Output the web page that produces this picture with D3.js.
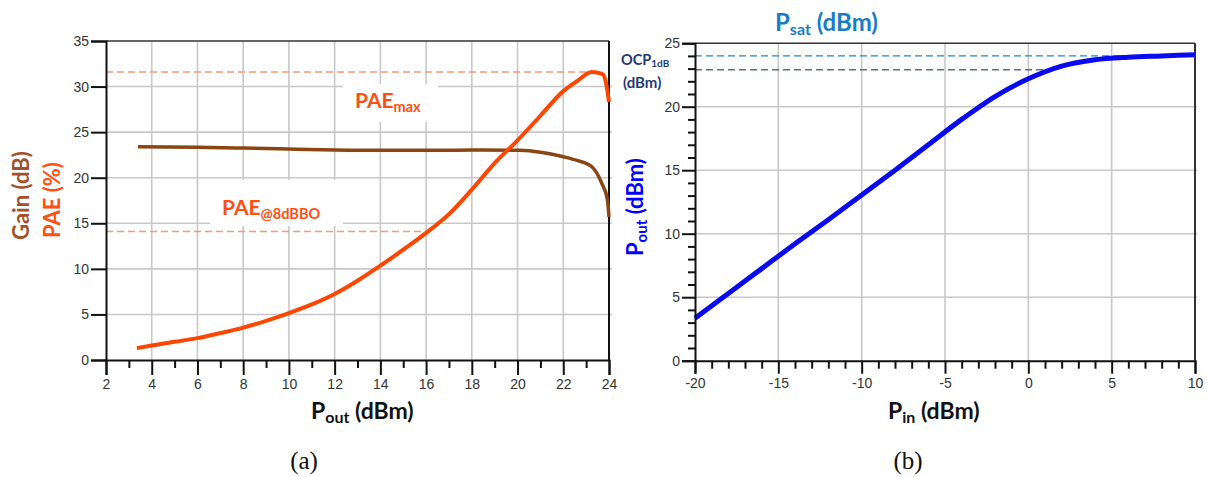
<!DOCTYPE html>
<html><head><meta charset="utf-8">
<script src="https://cdn.jsdelivr.net/npm/d3@7"></script>
<style>
html,body{margin:0;padding:0;background:#fff;}
svg{display:block;}
</style></head>
<body>
<svg id="c" width="1208" height="477"></svg>
<script>
// ---------------- Data: panel (a) ----------------
const paeX   = [3.35, 4, 5, 6, 7, 8, 9, 10, 11, 12, 13, 14, 15, 16, 17, 18, 19, 20, 21, 22, 22.6, 23.25, 23.7, 23.87, 24];
const paeY   = [1.3, 1.6, 2.0, 2.4, 2.95, 3.55, 4.3, 5.15, 6.1, 7.25, 8.7, 10.35, 12.1, 13.95, 16.0, 18.7, 21.6, 24.1, 26.8, 29.5, 30.6, 31.6, 31.4, 30.4, 28.3];
const gainX  = [3.4, 6, 8, 10, 12, 14, 16, 18, 20.1, 21, 22, 22.6, 23.25, 23.68, 23.93, 24];
const gainY  = [23.4, 23.35, 23.25, 23.15, 23.05, 23.0, 23.0, 23.05, 23.0, 22.8, 22.3, 21.9, 21.2, 19.4, 17.6, 15.7];
const paeMax = 31.6;
const paeBO  = 14.1;
const paeBOEnd = 16;
const aXTicks = [2,4,6,8,10,12,14,16,18,20,22,24];
const aYTicks = [0,5,10,15,20,25,30,35];

// ---------------- Data: panel (b) ----------------
const pinX  = [-20, -18, -16, -14, -12, -10, -8, -6, -4, -2, 0, 2, 4, 6, 8, 10];
const poutY = [3.35, 5.3, 7.25, 9.2, 11.1, 13.05, 15.0, 17.0, 19.0, 20.8, 22.2, 23.2, 23.7, 23.9, 24.0, 24.1];
const psat = 24.0;
const ocp1dB = 22.9;
const ocpEndPin = 1.0;
const bXTicks = [-20,-15,-10,-5,0,5,10];
const bYTicks = [0,5,10,15,20,25];

const svg = d3.select("#c");
const tickFont = "'Liberation Sans', Arial, sans-serif";
const boldFont = "Lato, 'Open Sans', sans-serif";
const gridCol = "#c8c8c8";
const plainFmt = d => String(d);

// ================= Panel (a) =================
const ax = d3.scaleLinear().domain([2,24]).range([106,609]);
const ay = d3.scaleLinear().domain([0,35]).range([360,41]);
const ga = svg.append("g");

ga.selectAll(".vg").data(aXTicks.filter(d=>d>2 && d<24)).enter().append("line")
  .attr("x1",d=>ax(d)).attr("x2",d=>ax(d)).attr("y1",ay(0)).attr("y2",ay(35))
  .attr("stroke",gridCol).attr("stroke-width",1.6);
ga.selectAll(".hg").data(aYTicks.filter(d=>d>0 && d<35)).enter().append("line")
  .attr("x1",ax(2)).attr("x2",ax(24)+3).attr("y1",d=>ay(d)).attr("y2",d=>ay(d))
  .attr("stroke",gridCol).attr("stroke-width",1.6);

ga.append("rect").attr("x",343).attr("y",84).attr("width",95).attr("height",38).attr("fill","#fff");
ga.append("rect").attr("x",210).attr("y",180).attr("width",133).attr("height",46).attr("fill","#fff");

ga.append("line").attr("x1",ax(2)).attr("x2",ax(23.25)).attr("y1",ay(paeMax)).attr("y2",ay(paeMax))
  .attr("stroke","#f59a72").attr("stroke-width",1.4).attr("stroke-dasharray","7,4");
ga.append("line").attr("x1",ax(2)).attr("x2",ax(paeBOEnd)).attr("y1",ay(paeBO)).attr("y2",ay(paeBO))
  .attr("stroke","#f59a72").attr("stroke-width",1.4).attr("stroke-dasharray","7,4");

ga.append("line").attr("x1",ax(2)).attr("x2",ax(24)).attr("y1",ay(35)).attr("y2",ay(35)).attr("stroke","#333").attr("stroke-width",1.6);
ga.append("line").attr("x1",ax(24)).attr("x2",ax(24)).attr("y1",ay(35)).attr("y2",ay(0)).attr("stroke","#111").attr("stroke-width",2);

const gainLine = d3.line().x((d,i)=>ax(gainX[i])).y(d=>ay(d)).curve(d3.curveMonotoneX);
ga.append("path").attr("d",gainLine(gainY)).attr("fill","none").attr("stroke","#8B4513").attr("stroke-width",3.5);
const paeLine = d3.line().x((d,i)=>ax(paeX[i])).y(d=>ay(d)).curve(d3.curveMonotoneX);
ga.append("path").attr("d",paeLine(paeY)).attr("fill","none").attr("stroke","#FF4500").attr("stroke-width",4);

const axBottom = ga.append("g").attr("transform",`translate(0,${ay(0)})`)
  .call(d3.axisBottom(ax).tickValues(aXTicks).tickSize(15).tickPadding(4).tickFormat(plainFmt));
const axMinor = ga.append("g").attr("transform",`translate(0,${ay(0)})`)
  .call(d3.axisBottom(ax).tickValues(d3.range(3,24,2)).tickSize(8).tickFormat(""));
const axLeft = ga.append("g").attr("transform",`translate(${ax(2)},0)`)
  .call(d3.axisLeft(ay).tickValues(aYTicks).tickSize(15).tickPadding(2).tickFormat(plainFmt));
[axBottom,axMinor,axLeft].forEach(g=>{
  g.select(".domain").attr("stroke","#111").attr("stroke-width",2);
  g.selectAll(".tick line").attr("stroke","#111").attr("stroke-width",2);
  g.selectAll("text").attr("font-family",tickFont).attr("font-size",14).attr("fill","#333");
});
axMinor.select(".domain").remove();

function subText(g, x, y, main, sub, color, fs, sfs, dy){
  const t = g.append("text").attr("x",x).attr("y",y).attr("font-family",boldFont)
    .attr("font-weight","bold").attr("fill",color);
  t.append("tspan").attr("font-size",fs).text(main);
  t.append("tspan").attr("font-size",sfs).attr("dy",dy).text(sub);
  return t;
}
subText(ga, 355, 108, "PAE", "max", "#FF4F10", 21, 14.5, 4);
subText(ga, 222, 215, "PAE", "@8dBBO", "#FF4F10", 21, 14.5, 4);

const xtA = ga.append("text").attr("x",311).attr("y",419).attr("font-family",boldFont).attr("font-weight","bold").attr("fill","#111");
xtA.append("tspan").attr("font-size",23).text("P");
xtA.append("tspan").attr("font-size",16).attr("dy",4).text("out");
xtA.append("tspan").attr("font-size",23).attr("dy",-4).text(" (dBm)");

ga.append("text").attr("transform","translate(29,240) rotate(-90)")
  .attr("font-family",boldFont).attr("font-weight","bold").attr("font-size",22).attr("fill","#A0522D").text("Gain (dB)");
ga.append("text").attr("transform","translate(60,238) rotate(-90)")
  .attr("font-family",boldFont).attr("font-weight","bold").attr("font-size",22).attr("fill","#FF5011").text("PAE (%)");

svg.append("text").attr("x",304).attr("y",469).attr("text-anchor","middle")
  .attr("font-family","'Liberation Serif', 'Times New Roman', serif").attr("font-size",25).attr("fill","#111").text("(a)");

// ================= Panel (b) =================
const bx = d3.scaleLinear().domain([-20,10]).range([695,1195]);
const by = d3.scaleLinear().domain([0,25]).range([360.7,43.2]);
const gb = svg.append("g");

gb.selectAll(".vg").data(bXTicks.filter(d=>d>-20 && d<10)).enter().append("line")
  .attr("x1",d=>bx(d)).attr("x2",d=>bx(d)).attr("y1",by(0)).attr("y2",by(25))
  .attr("stroke",gridCol).attr("stroke-width",1.6);
gb.selectAll(".hg").data(bYTicks.filter(d=>d>0 && d<25)).enter().append("line")
  .attr("x1",bx(-20)).attr("x2",bx(10)+2).attr("y1",d=>by(d)).attr("y2",d=>by(d))
  .attr("stroke",gridCol).attr("stroke-width",1.6);

gb.append("line").attr("x1",bx(-20)).attr("x2",bx(10)).attr("y1",by(25)).attr("y2",by(25)).attr("stroke","#333").attr("stroke-width",1.6);
gb.append("line").attr("x1",bx(10)).attr("x2",bx(10)).attr("y1",by(25)).attr("y2",by(0)).attr("stroke","#333").attr("stroke-width",2);

gb.append("line").attr("x1",bx(-20)).attr("x2",bx(10)).attr("y1",by(psat)).attr("y2",by(psat))
  .attr("stroke","#1a86d0").attr("stroke-width",1.3).attr("stroke-dasharray","7,4");
gb.append("line").attr("x1",bx(-20)).attr("x2",bx(ocpEndPin)).attr("y1",by(ocp1dB)).attr("y2",by(ocp1dB))
  .attr("stroke","#5a6c9c").attr("stroke-width",1.5).attr("stroke-dasharray","7,4");

const poutLine = d3.line().x((d,i)=>bx(pinX[i])).y(d=>by(d)).curve(d3.curveMonotoneX);
gb.append("path").attr("d",poutLine(poutY)).attr("fill","none").attr("stroke","#0a0af0").attr("stroke-width",5);

const bxB = gb.append("g").attr("transform",`translate(0,${by(0)})`)
  .call(d3.axisBottom(bx).tickValues(bXTicks).tickSize(13).tickPadding(4).tickFormat(plainFmt));
const bxM = gb.append("g").attr("transform",`translate(0,${by(0)})`)
  .call(d3.axisBottom(bx).tickValues(d3.range(-19,10,1).filter(d=>d%5!==0)).tickSize(8).tickFormat(""));
const byL = gb.append("g").attr("transform",`translate(${bx(-20)},0)`)
  .call(d3.axisLeft(by).tickValues(bYTicks).tickSize(13).tickPadding(2).tickFormat(plainFmt));
const byM = gb.append("g").attr("transform",`translate(${bx(-20)},0)`)
  .call(d3.axisLeft(by).tickValues(d3.range(1,25,1).filter(d=>d%5!==0)).tickSize(7).tickFormat(""));
[bxB,bxM,byL,byM].forEach(g=>{
  g.select(".domain").attr("stroke","#111").attr("stroke-width",2);
  g.selectAll(".tick line").attr("stroke","#111").attr("stroke-width",2);
  g.selectAll("text").attr("font-family",tickFont).attr("font-size",14).attr("fill","#333");
});
bxM.select(".domain").remove(); byM.select(".domain").remove();

const pt = gb.append("text").attr("x",775).attr("y",31).attr("font-family",boldFont).attr("font-weight","bold").attr("fill","#1a7cc6");
pt.append("tspan").attr("font-size",24).text("P");
pt.append("tspan").attr("font-size",16).attr("dy",4).text("sat");
pt.append("tspan").attr("font-size",24).attr("dy",-4).text(" (dBm)");

const ot = gb.append("text").attr("x",621).attr("y",65).attr("font-family",boldFont).attr("font-weight","bold").attr("fill","#1f3b73");
ot.append("tspan").attr("font-size",14.5).text("OCP");
ot.append("tspan").attr("font-size",10).attr("dy",2).text("1dB");
gb.append("text").attr("x",623).attr("y",88).attr("font-family",boldFont).attr("font-weight","bold")
  .attr("font-size",15).attr("fill","#1f3b73").text("(dBm)");

const xtB = gb.append("text").attr("x",888).attr("y",419).attr("font-family",boldFont).attr("font-weight","bold").attr("fill","#111");
xtB.append("tspan").attr("font-size",23).text("P");
xtB.append("tspan").attr("font-size",16).attr("dy",4).text("in");
xtB.append("tspan").attr("font-size",23).attr("dy",-4).text(" (dBm)");

const ytB = gb.append("text").attr("transform","translate(643,256) rotate(-90)").attr("font-family",boldFont).attr("font-weight","bold").attr("fill","#0000ff");
ytB.append("tspan").attr("font-size",22).text("P");
ytB.append("tspan").attr("font-size",15).attr("dy",4).text("out");
ytB.append("tspan").attr("font-size",22).attr("dy",-4).text(" (dBm)");

svg.append("text").attr("x",908).attr("y",469).attr("text-anchor","middle")
  .attr("font-family","'Liberation Serif', 'Times New Roman', serif").attr("font-size",25).attr("fill","#111").text("(b)");
</script>
</body></html>
